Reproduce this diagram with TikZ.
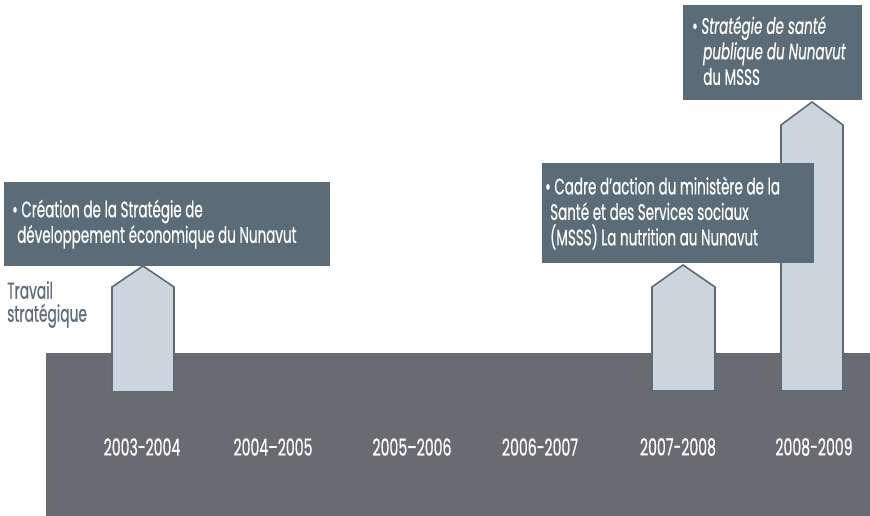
\documentclass[tikz,border=0pt]{standalone}
\usepackage{fontspec}
\setmainfont{Poppins}[FakeStretch=0.6,FakeBold=0.5]
\definecolor{slate}{RGB}{91,108,120}
\definecolor{bandgray}{RGB}{106,107,112}
\definecolor{pale}{RGB}{204,213,221}

\begin{document}
\begin{tikzpicture}[x=1pt,y=1pt]
\tikzstyle{every node}+=[inner sep=0pt]
\tikzstyle{boxfill}=[fill=slate, anchor=north west]
\tikzstyle{boxtext}=[text=white, anchor=west, align=left, font=\fontsize{22.5}{25.5}\selectfont]
\tikzstyle{year}=[text=white, font=\fontsize{23.5}{24}\selectfont]
\tikzstyle{pillar}=[fill=pale, draw=slate, line width=1.6pt]
\useasboundingbox (0,0) rectangle (870,-516);
% band
\fill [bandgray] (46,-353) rectangle (870,-516);
\node [year] (y1) at (142,-447) {2003-2004};
\node [year] (y2) at (273,-447) {2004--2005};
\node [year] (y3) at (412,-447) {2005--2006};
\node [year] (y4) at (540,-447) {2006-2007};
\node [year] (y5) at (678,-447) {2007-2008};
\node [year] (y6) at (814,-447) {2008-2009};
% pillars
\draw [pillar] (112,-392) -- (112,-287) -- (143,-266) -- (174,-287) -- (174,-392) -- cycle;
\draw [pillar] (652,-391) -- (652,-287) -- (683,-265) -- (715,-287) -- (715,-391) -- cycle;
\draw [pillar] (781,-391) -- (781,-125) -- (812,-102) -- (843,-125) -- (843,-391) -- cycle;
% boxes
\node [boxfill, minimum width=326, minimum height=84] (box1) at (4,-182) {};
\node [boxtext] (t1) at ([xshift=8]box1.west) {\textbullet\ Création de la Stratégie de\\\hspace*{5pt}développement économique du Nunavut};
\node [boxfill, minimum width=272, minimum height=100] (box2) at (542,-163) {};
\node [boxtext] (t2) at ([xshift=3]box2.west) {\textbullet\ Cadre d’action du ministère de la\\\hspace*{5pt}Santé et des Services sociaux\\\hspace*{5pt}(MSSS) La nutrition au Nunavut};
\node [boxfill, minimum width=179, minimum height=95] (box3) at (683,-5) {};
\node [boxtext] (t3) at ([xshift=9,yshift=2]box3.west) {\textbullet\ \textit{Stratégie de santé}\\\hspace*{11pt}\textit{publique du Nunavut}\\\hspace*{11pt}du MSSS};
% label
\node [text=slate, anchor=north west, align=left, font=\fontsize{23}{23}\selectfont] (lab) at (7,-281) {Travail\\stratégique};
\end{tikzpicture}
\end{document}
